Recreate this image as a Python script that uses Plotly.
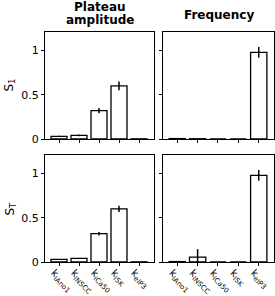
import plotly.graph_objects as go

categories = ["k<sub>IAno1</sub>", "k<sub>INSCC</sub>", "k<sub>iCa50</sub>", "k<sub>ISK</sub>", "k<sub>eIP3</sub>"]
s1_plateau = [0.03, 0.04, 0.32, 0.60, 0.002]
s1_plateau_err = [0.008, 0.01, 0.03, 0.05, 0.0]
s1_freq = [0.005, 0.003, 0.0, 0.0, 0.98]
s1_freq_err = [0.0, 0.0, 0.0, 0.0, 0.06]
st_plateau = [0.03, 0.04, 0.32, 0.60, 0.002]
st_plateau_err = [0.004, 0.005, 0.02, 0.035, 0.0]
st_freq = [0.005, 0.055, 0.0, 0.0, 0.98]
st_freq_err = [0.0, 0.09, 0.0, 0.0, 0.06]
col_title_lines = [["Plateau", "amplitude"], ["Frequency"]]
row_titles = ["S<sub>1</sub>", "S<sub>T</sub>"]
y_ticks = [0, 0.5, 1]
y_ticklabels = ["0", "0.5", "1"]

FONT = "DejaVu Sans"
W, H = 275, 296
xd = [[45 / W, 154 / W], [163 / W, 274 / W]]
yd = [[1 - 139 / H, 1 - 32 / H], [1 - 262 / H, 1 - 155 / H]]

fig = go.Figure()
panels = [
    (s1_plateau, s1_plateau_err), (s1_freq, s1_freq_err),
    (st_plateau, st_plateau_err), (st_freq, st_freq_err),
]
xs = list(range(len(categories)))
for i, (vals, errs) in enumerate(panels):
    r, c = divmod(i, 2)
    n = i + 1
    xa = "x" if n == 1 else f"x{n}"
    ya = "y" if n == 1 else f"y{n}"
    fig.add_trace(go.Bar(
        x=xs, y=vals, xaxis=xa, yaxis=ya, width=0.8,
        marker=dict(color="white", line=dict(color="black", width=1.3)),
        error_y=dict(type="data", array=errs, visible=True, color="black", thickness=1.5, width=0),
        showlegend=False,
    ))
    xkey = "xaxis" if n == 1 else f"xaxis{n}"
    ykey = "yaxis" if n == 1 else f"yaxis{n}"
    fig.layout[xkey] = dict(
        domain=xd[c], anchor=ya, range=[-0.7, 4.75], showgrid=False, zeroline=False,
        showline=True, mirror=True, linecolor="black", linewidth=1, automargin=False,
        ticks="outside", ticklen=3, tickcolor="black",
        tickvals=xs, ticktext=categories if r == 1 else [""] * 5,
        showticklabels=(r == 1), tickangle=45,
        ticklabelstandoff=-3, ticklabelshift=-5,
        tickfont=dict(family=FONT, size=10, color="black"),
    )
    fig.layout[ykey] = dict(
        domain=yd[r], anchor=xa, range=[0, 1.21], showgrid=False, zeroline=False,
        showline=True, mirror=True, linecolor="black", linewidth=1, automargin=False,
        ticks="outside", ticklen=3, tickcolor="black",
        tickvals=y_ticks, ticktext=y_ticklabels, showticklabels=(c == 0),
        tickfont=dict(family=FONT, size=11, color="black"),
    )

ann = []
title_y = [[7, 20], [15]]
for c in range(2):
    for line, yy in zip(col_title_lines[c], title_y[c]):
        ann.append(dict(text="<b>" + line + "</b>", x=(xd[c][0] + xd[c][1]) / 2, y=1 - yy / H,
                        xref="paper", yref="paper", xanchor="center", yanchor="middle",
                        showarrow=False, font=dict(family=FONT, size=12, color="black")))
for r in range(2):
    ann.append(dict(text=row_titles[r], x=10 / W, y=(yd[r][0] + yd[r][1]) / 2, xref="paper", yref="paper",
                    xanchor="center", yanchor="middle", showarrow=False, textangle=-90,
                    font=dict(family=FONT, size=12, color="black")))

fig.update_layout(
    width=W, height=H, margin=dict(l=0, r=0, t=0, b=0),
    paper_bgcolor="white", plot_bgcolor="white", annotations=ann, bargap=0.2,
)
fig.write_html("out.html", config={"displayModeBar": False},
               post_script="document.body.style.margin='0';document.body.style.overflow='hidden';")
